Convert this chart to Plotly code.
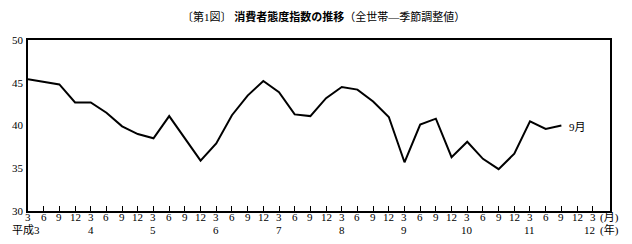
import plotly.graph_objects as go

# Quarterly index values, 平成3年3月 .. 平成11年9月
values = [45.4, 45.1, 44.8, 42.7, 42.7, 41.5, 39.9, 39.0, 38.5, 41.1, 38.5, 35.9,
          37.9, 41.2, 43.5, 45.2, 43.9, 41.3, 41.1, 43.2, 44.5, 44.2, 42.8, 41.0,
          35.7, 40.1, 40.8, 36.3, 38.1, 36.1, 34.9, 36.7, 40.5, 39.6, 40.0]
month_labels = ["3", "6", "9", "12"] * 9 + ["3"]
year_labels = ["平成3", "4", "5", "6", "7", "8", "9", "10", "11", "12"]
y_ticks = [30, 35, 40, 45, 50]
title = "〔第1図〕 <b>消費者態度指数の推移</b>（全世帯—季節調整値）"

FONT = "Liberation Serif, Noto Sans CJK JP"
XMAX = 37.1
x = list(range(len(values)))


def px(v):
    return v / XMAX


fig = go.Figure()
fig.add_trace(go.Scatter(x=x, y=values, mode="lines",
                         line=dict(color="black", width=2), hoverinfo="skip"))

f = dict(size=11, family=FONT, color="black")
YM = -0.036
YY = -0.11
ann = []
for i, m in enumerate(month_labels):
    ann.append(dict(x=px(i), y=YM, xref="paper", yref="paper", text=m, showarrow=False,
                    xanchor="center", yanchor="middle", font=f))
for k, yl in enumerate(year_labels):
    xi = k * 4
    xx = xi
    if k == 0:
        xx = xi - 0.15
    if k == len(year_labels) - 1:
        xx = xi - 0.2
    ann.append(dict(x=px(xx), y=YY, xref="paper", yref="paper", text=yl, showarrow=False,
                    xanchor="center", yanchor="middle", font=f))
ann.append(dict(x=px(36.35), y=YM, xref="paper", yref="paper", text="(月)", showarrow=False,
                xanchor="left", yanchor="middle", font=f))
ann.append(dict(x=px(36.35), y=YY, xref="paper", yref="paper", text="(年)", showarrow=False,
                xanchor="left", yanchor="middle", font=f))
ann.append(dict(x=34.35, y=values[-1] - 0.15, xref="x", yref="y", text="9月", showarrow=False,
                xanchor="left", yanchor="middle", font=f))
ann.append(dict(x=0.507, y=1.14, xref="paper", yref="paper", text=title, showarrow=False,
                xanchor="center", yanchor="middle", font=f))

fig.update_layout(
    width=632, height=244,
    margin=dict(l=26, r=22, t=40, b=33),
    paper_bgcolor="white", plot_bgcolor="white",
    showlegend=False,
    annotations=ann,
    xaxis=dict(range=[0, XMAX], tickvals=list(range(37)), showticklabels=False,
               ticks="inside", ticklen=5, tickwidth=1, tickcolor="black",
               showline=True, linecolor="black", linewidth=1.6, mirror=True,
               showgrid=False, zeroline=False, fixedrange=True),
    yaxis=dict(range=[30, 50], tickvals=y_ticks, ticktext=[str(v) for v in y_ticks],
               tickfont=f, ticks="", ticklabelstandoff=1,
               showline=True, linecolor="black", linewidth=1.6, mirror=True,
               showgrid=False, zeroline=False, fixedrange=True),
)

fig.write_html("out.html")
